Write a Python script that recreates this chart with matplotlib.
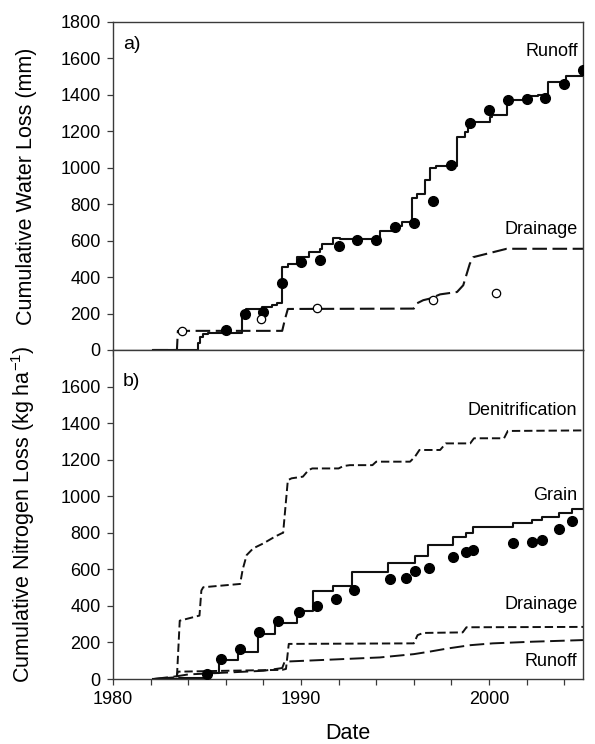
import matplotlib
matplotlib.use("Agg")
import matplotlib.pyplot as plt
from matplotlib.ticker import MultipleLocator

plt.rcParams['font.family'] = ['Liberation Sans', 'DejaVu Sans']
plt.rcParams['lines.scale_dashes'] = False
plt.rcParams['mathtext.fontset'] = 'custom'
plt.rcParams['mathtext.rm'] = 'Liberation Sans'
plt.rcParams['mathtext.it'] = 'Liberation Sans:italic'
plt.rcParams['mathtext.bf'] = 'Liberation Sans:bold'
plt.rcParams['mathtext.default'] = 'regular'

# ---------------- Panel a: cumulative water loss (mm) ----------------
runoff_obs_year = [1986.0, 1987.0, 1988.0, 1989.0, 1990.0, 1991.0, 1992.0, 1993.0, 1994.0,
                   1995.0, 1996.0, 1997.0, 1998.0, 1999.0, 2000.0, 2001.0, 2002.0, 2003.0,
                   2004.0, 2005.0]
runoff_obs_val = [110, 200, 210, 370, 485, 495, 570, 605, 605,
                  675, 695, 815, 1015, 1245, 1315, 1370, 1375, 1380,
                  1460, 1535]

drain_obs_year = [1983.65, 1987.87, 1990.87, 1997.04, 2000.37]
drain_obs_val = [105, 170, 230, 275, 315]

runoff_sim_year = [1982.15, 1984.54, 1984.65, 1984.8, 1985.05, 1986.85, 1987.1, 1987.9, 1988.45,
                   1988.7, 1988.97, 1989.33, 1989.77, 1990.4, 1991.0, 1991.1, 1991.72, 1992.07,
                   1994.2, 1995.0, 1995.35, 1995.9, 1996.15, 1996.6, 1996.85, 1997.2, 1998.3,
                   1998.7, 1998.9, 2000.05, 2000.15, 2000.95, 2002.0, 2002.6, 2003.15, 2004.1,
                   2005.0]
runoff_sim_val = [0, 40, 70, 85, 95, 205, 225, 235, 245,
                  255, 455, 470, 509, 536, 555, 580, 615, 607,
                  650, 680, 700, 836, 855, 930, 1000, 1009, 1169,
                  1196, 1251, 1278, 1287, 1369, 1390, 1398, 1469, 1505,
                  1505]

drain_sim_year = [1982.15, 1983.4, 1983.45, 1989.0, 1989.15, 1989.3, 1996.0, 1996.15, 1996.5,
                  1996.86, 1997.4, 1998.3, 1998.63, 1998.98, 1999.16, 2000.94, 2005.0]
drain_sim_val = [0, 0, 105, 105, 170, 225, 227, 255, 273,
                 282, 305, 318, 355, 473, 509, 555, 555]

# ---------------- Panel b: cumulative nitrogen loss (kg/ha) ----------------
grain_obs_year = [1985.02, 1985.74, 1986.76, 1987.78, 1988.76, 1989.9, 1990.83, 1991.84,
                  1992.82, 1994.73, 1995.6, 1996.08, 1996.83, 1998.1, 1998.78, 1999.17,
                  2001.26, 2002.27, 2002.8, 2003.74, 2004.43]
grain_obs_val = [30, 110, 164, 259, 319, 369, 398, 438,
                 489, 547, 553, 589, 606, 666, 697, 708,
                 743, 748, 761, 819, 863]

grain_sim_year = [1982.15, 1983.5, 1985.0, 1985.64, 1986.67, 1987.73, 1988.6, 1989.77, 1990.66,
                  1991.7, 1992.7, 1994.65, 1996.08, 1996.77, 1998.07, 1998.78, 1999.17, 2001.26,
                  2002.27, 2002.8, 2003.74, 2004.43, 2005.0]
grain_sim_val = [0, 8, 35, 105, 150, 248, 307, 374, 480,
                 511, 584, 635, 675, 734, 776, 797, 830, 852,
                 870, 885, 907, 931, 931]

denit_year = [1982.15, 1983.4, 1983.55, 1984.6, 1984.7, 1984.8, 1986.76, 1986.9, 1987.11, 1987.46,
              1988.0, 1988.6, 1988.97, 1989.05, 1989.3, 1989.5, 1990.1, 1990.4, 1990.6, 1992.0,
              1992.25, 1992.6, 1993.8, 1994.0, 1995.8, 1996.06, 1996.3, 1997.4, 1997.7, 1999.0,
              1999.2, 2000.8, 2001.0, 2005.0]
denit_val = [0, 10, 319, 347, 484, 502, 520, 600, 678, 715,
             742, 778, 797, 800, 1088, 1098, 1107, 1143, 1152, 1152,
             1165, 1170, 1170, 1189, 1189, 1216, 1253, 1253, 1289, 1289,
             1317, 1317, 1357, 1360]

drainN_year = [1982.15, 1983.35, 1983.45, 1986.0, 1989.0, 1989.2, 1989.35, 1996.0, 1996.2, 1996.5,
               1998.6, 1998.8, 2005.0]
drainN_val = [0, 0, 40, 45, 50, 55, 192, 195, 240, 252,
              255, 283, 285]

runoffN_year = [1982.15, 1983.4, 1984.0, 1986.0, 1988.0, 1989.0, 1989.13, 1991.8, 1994.2, 1996.0,
                1996.8, 1997.8, 1999.0, 2000.2, 2002.3, 2005.0]
runoffN_val = [0, 15, 25, 35, 45, 60, 95, 107, 118, 136,
               149, 167, 185, 195, 204, 213]

# ---------------- Figure ----------------
W, H = 595, 744
fig = plt.figure(figsize=(W / 100, H / 100), dpi=100)
axL, axR = 113 / W, 583 / W
ax1 = fig.add_axes([axL, 1 - 350 / H, axR - axL, (350 - 21.7) / H])
ax2 = fig.add_axes([axL, 1 - 679 / H, axR - axL, 329 / H])

spine_col = '#3a3a3a'
line_col = '#111111'
LONG = (0, (10.5, 4.0))
SHORT = (0, (6.0, 2.8))

for ax in (ax1, ax2):
    ax.set_xlim(1980, 2005)
    ax.set_ylim(0, 1800)
    for s in ax.spines.values():
        s.set_color(spine_col)
        s.set_linewidth(1.0)
    ax.xaxis.set_major_locator(MultipleLocator(10))
    ax.xaxis.set_minor_locator(MultipleLocator(2))
    ax.tick_params(axis='both', which='both', direction='out', length=4, width=0.9,
                   color=spine_col, labelsize=13, pad=5, top=False, right=False)

ax1.set_yticks(range(0, 1801, 200))
ax1.tick_params(axis='x', labelbottom=False)
ax2.set_yticks(range(0, 1601, 200))

# Panel a
ax1.plot(runoff_sim_year, runoff_sim_val, drawstyle='steps-post', color=line_col, lw=1.5)
ax1.plot(drain_sim_year, drain_sim_val, color=line_col, lw=1.5, linestyle=LONG)
ax1.plot(runoff_obs_year, runoff_obs_val, 'o', color='black', ms=7.0, zorder=5)
ax1.plot(drain_obs_year, drain_obs_val, 'o', mfc='white', mec='black', mew=0.9, ms=6.0, zorder=5)
ax1.text(2004.75, 1634, 'Runoff', ha='right', va='center', fontsize=13)
ax1.text(2004.7, 663, 'Drainage', ha='right', va='center', fontsize=13)
ax1.text(0.021, 0.932, 'a)', transform=ax1.transAxes, ha='left', va='center', fontsize=14)
ax1.set_ylabel('Cumulative Water Loss (mm)', fontsize=15.5)
ax1.yaxis.set_label_coords(-0.162, 0.5)

# Panel b
ax2.plot(denit_year, denit_val, color=line_col, lw=1.4, linestyle=SHORT)
ax2.plot(grain_sim_year, grain_sim_val, drawstyle='steps-post', color=line_col, lw=1.5)
ax2.plot(drainN_year, drainN_val, color=line_col, lw=1.4, linestyle=SHORT)
ax2.plot(runoffN_year, runoffN_val, color=line_col, lw=1.4, linestyle=LONG)
ax2.plot(grain_obs_year, grain_obs_val, 'o', color='black', ms=7.0, zorder=5)
ax2.text(2004.7, 1471, 'Denitrification', ha='right', va='center', fontsize=13)
ax2.text(2004.7, 1003, 'Grain', ha='right', va='center', fontsize=13)
ax2.text(2004.7, 405, 'Drainage', ha='right', va='center', fontsize=13)
ax2.text(2004.7, 95, 'Runoff', ha='right', va='center', fontsize=13)
ax2.text(0.021, 0.904, 'b)', transform=ax2.transAxes, ha='left', va='center', fontsize=14)
ax2.set_ylabel('Cumulative Nitrogen Loss (kg ha$^{-1}$)', fontsize=15.5)
ax2.yaxis.set_label_coords(-0.162, 0.5)
ax2.set_xlabel('Date', fontsize=15.5)
ax2.xaxis.set_label_coords(0.5, -(723 - 679) / 329)

fig.savefig('out.png', dpi=100, facecolor='white')
